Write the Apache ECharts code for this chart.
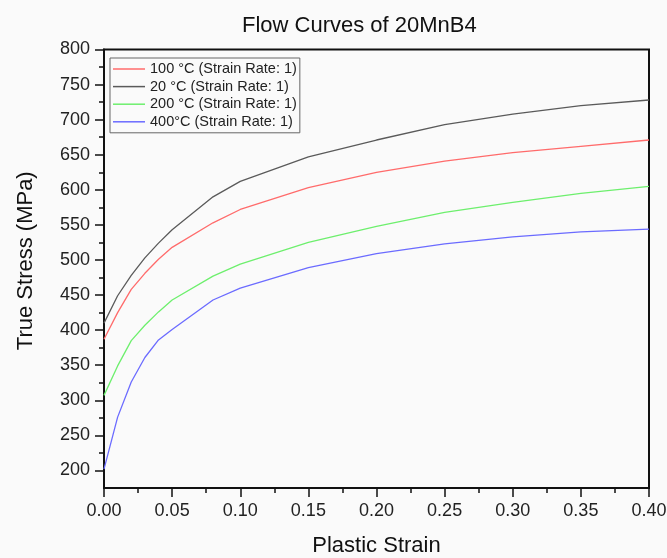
<!DOCTYPE html>
<html>
<head>
<meta charset="utf-8">
<script src="https://cdn.jsdelivr.net/npm/echarts@6/dist/echarts.min.js"></script>
<style>
html,body{margin:0;padding:0;background:#fafafa;}
#chart{width:667px;height:558px;}
</style>
</head>
<body>
<div id="chart"></div>
<script>
const strain = [0, 0.01, 0.02, 0.03, 0.04, 0.05, 0.08, 0.10, 0.15, 0.20, 0.25, 0.30, 0.35, 0.40];
const stress100 = [387, 425, 458, 481, 501, 518, 553, 572, 603, 625, 641, 653, 662, 671];
const stress20  = [410, 449, 478, 503, 524, 543, 590, 612, 647, 671, 693, 708, 720, 728];
const stress200 = [307, 349, 385, 407, 426, 443, 477, 494, 525, 548, 568, 582, 595, 605];
const stress400 = [202, 276, 326, 361, 386, 401, 443, 460, 489, 509, 523, 533, 540, 544];
const seriesNames = ['100 °C (Strain Rate: 1)', '20 °C (Strain Rate: 1)', '200 °C (Strain Rate: 1)', '400°C (Strain Rate: 1)'];
const seriesColors = ['#ff6b6b', '#5a5a5a', '#6def6d', '#6b6bff'];
const yMajorTicks = [200, 250, 300, 350, 400, 450, 500, 550, 600, 650, 700, 750, 800];
const yMinorTicks = [225, 275, 325, 375, 425, 475, 525, 575, 625, 675, 725, 775];

const FONT = 'Liberation Sans, Arial, sans-serif';
const pair = (ys) => strain.map((x, i) => [x, ys[i]]);
const allY = [stress100, stress20, stress200, stress400];

const chart = echarts.init(document.getElementById('chart'), null, {renderer: 'canvas'});
chart.setOption({
  backgroundColor: '#fafafa',
  animation: false,
  title: {
    text: 'Flow Curves of 20MnB4',
    left: 237, top: 10,
    textStyle: {fontFamily: FONT, fontSize: 22, fontWeight: 'normal', color: '#111'}
  },
  grid: {left: 104, right: 18, top: 49.5, bottom: 70, outerBoundsMode: 'none', containLabel: false,
         show: true, borderColor: '#111', borderWidth: 2, backgroundColor: 'transparent'},
  legend: {
    orient: 'vertical', left: 110, top: 58,
    padding: [3, 3, 3, 3],
    itemGap: 1.6, itemWidth: 32, itemHeight: 1.5,
    icon: 'rect',
    borderColor: '#666', borderWidth: 1, backgroundColor: '#fafafa',
    textStyle: {fontFamily: FONT, fontSize: 14.5, color: '#222', lineHeight: 16},
    data: seriesNames
  },
  xAxis: {
    type: 'value', min: 0, max: 0.4, interval: 0.05,
    name: 'Plastic Strain', nameLocation: 'middle', nameGap: 47,
    nameTextStyle: {fontFamily: FONT, fontSize: 22, color: '#111'},
    axisLine: {show: true, onZero: false, lineStyle: {color: '#111', width: 2}},
    axisTick: {show: true, length: 9, lineStyle: {color: '#111', width: 1.5}},
    minorTick: {show: true, splitNumber: 2, length: 5, lineStyle: {color: '#111', width: 1.5}},
    splitLine: {show: false},
    axisLabel: {fontFamily: FONT, fontSize: 18, color: '#222', margin: 14, formatter: v => v.toFixed(2)}
  },
  yAxis: [{
    type: 'value', min: 175, max: 800,
    name: 'True Stress (MPa)', nameLocation: 'middle', nameGap: 67, nameRotate: 90,
    nameTextStyle: {fontFamily: FONT, fontSize: 22, color: '#111', padding: [0, 0, 0, 16]},
    axisLine: {show: true, onZero: false, lineStyle: {color: '#111', width: 2}},
    axisTick: {show: true, length: 9, customValues: yMajorTicks, lineStyle: {color: '#111', width: 1.5}},
    splitLine: {show: false},
    axisLabel: {fontFamily: FONT, fontSize: 18, color: '#222', margin: 14, customValues: yMajorTicks}
  }, {
    type: 'value', min: 175, max: 800, position: 'left',
    axisLine: {show: false},
    axisTick: {show: true, length: 5, customValues: yMinorTicks, lineStyle: {color: '#111', width: 1.5}},
    axisLabel: {show: false},
    splitLine: {show: false}
  }],
  series: seriesNames.map((n, i) => ({
    name: n, type: 'line', yAxisIndex: 0,
    data: pair(allY[i]),
    showSymbol: false, symbol: 'none',
    color: seriesColors[i],
    lineStyle: {width: 1.3, color: seriesColors[i]}
  }))
});
</script>
</body>
</html>
